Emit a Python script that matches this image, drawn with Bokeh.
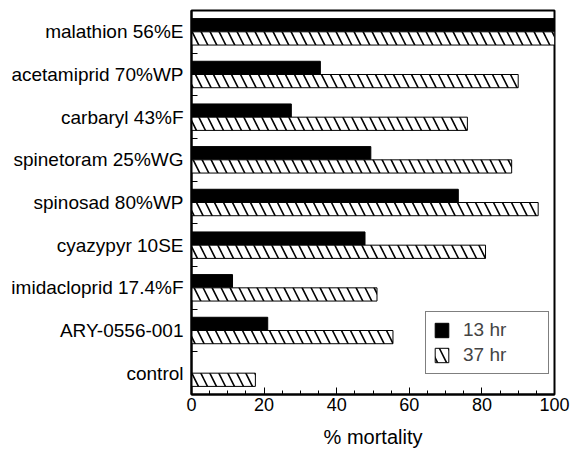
import numpy as np
from bokeh.plotting import figure
from bokeh.models import FixedTicker, Legend, LegendItem
from bokeh.embed import file_html
from bokeh.resources import INLINE

categories = ["malathion 56%E", "acetamiprid 70%WP", "carbaryl 43%F",
              "spinetoram 25%WG", "spinosad 80%WP", "cyazypyr 10SE",
              "imidacloprid 17.4%F", "ARY-0556-001", "control"]
mort_13hr = [100, 35.5, 27.5, 49.4, 73.5, 47.8, 11.3, 21, 0]
mort_37hr = [100, 90, 76, 88.2, 95.5, 81, 51.1, 55.5, 17.6]
x_ticks = [0, 20, 40, 60, 80, 100]

FONT = "Liberation Sans"
n = len(categories)
yc = n - np.arange(n) - 0.5
bh = 0.31

p = figure(width=570, height=450, x_range=(0, 100), y_range=(0, n),
           output_backend="svg", toolbar_location=None,
           min_border_left=191, min_border_right=16, min_border_top=10,
           min_border_bottom=55)
p.title.visible = False

r13 = p.hbar(y=yc + bh / 2, left=0, right=mort_13hr, height=bh,
             fill_color="black", line_color="black", line_width=1)
r37 = p.hbar(y=yc - bh / 2, left=0, right=mort_37hr, height=bh,
             fill_color="white", line_color="black", line_width=1,
             hatch_pattern="\\", hatch_color="black", hatch_scale=18,
             hatch_weight=1.6)

p.xgrid.visible = False
p.ygrid.visible = False
p.outline_line_color = "black"
p.outline_line_width = 2
p.background_fill_color = "white"
p.border_fill_color = "white"

# x axis
xa = p.xaxis[0]
xa.ticker = FixedTicker(ticks=x_ticks, minor_ticks=list(range(0, 101, 5)))
xa.axis_line_width = 2
xa.major_tick_in = 7
xa.major_tick_out = 0
xa.minor_tick_in = 4
xa.minor_tick_out = 0
xa.major_label_standoff = 3
xa.major_label_text_font = FONT
xa.major_label_text_font_size = "18px"
xa.major_label_text_color = "black"
xa.axis_label = "% mortality"
xa.axis_label_text_font = FONT
xa.axis_label_text_font_size = "20px"
xa.axis_label_text_font_style = "normal"
xa.axis_label_text_color = "black"
xa.axis_label_standoff = 12

# y axis
ya = p.yaxis[0]
ya.ticker = FixedTicker(ticks=[float(v) for v in yc],
                        minor_ticks=list(range(1, n)))
ya.major_label_overrides = {float(yc[i]): categories[i] for i in range(n)}
ya.axis_line_width = 2
ya.major_tick_in = 0
ya.major_tick_out = 0
ya.minor_tick_in = 6
ya.minor_tick_out = 0
ya.major_label_standoff = 8
ya.major_label_text_font = FONT
ya.major_label_text_font_size = "19px"
ya.major_label_text_color = "black"

legend = Legend(items=[LegendItem(label="13 hr", renderers=[r13]),
                       LegendItem(label="37 hr", renderers=[r37])],
                location=(234, 20), orientation="vertical")
legend.padding = 7
legend.margin = 0
legend.spacing = 3
legend.glyph_width = 17
legend.glyph_height = 18
legend.label_width = 78
legend.label_standoff = 13
legend.label_text_font = FONT
legend.label_text_font_size = "19px"
legend.border_line_color = "black"
legend.border_line_width = 1
legend.background_fill_color = "white"
legend.background_fill_alpha = 1
p.add_layout(legend)

open("out.html", "w").write(file_html(p, INLINE))
